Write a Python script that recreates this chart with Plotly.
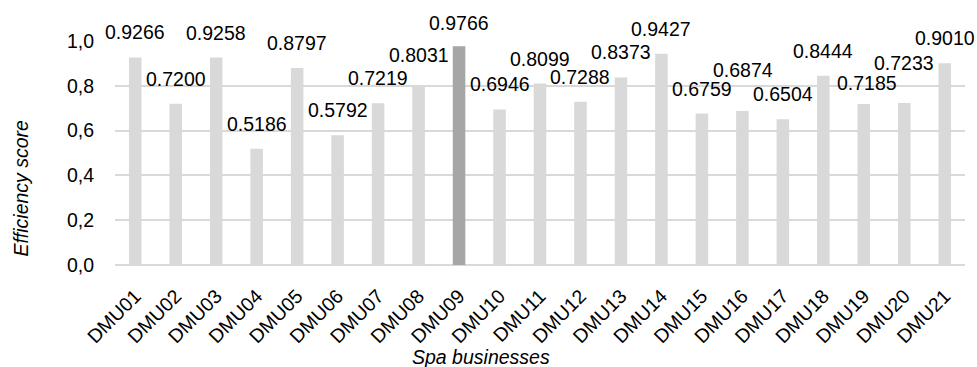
import plotly.graph_objects as go

# Efficiency scores of spa businesses (DEA results)
dmus = [f"DMU{i:02d}" for i in range(1, 22)]
scores = [0.9266, 0.7200, 0.9258, 0.5186, 0.8797, 0.5792, 0.7219, 0.8031,
          0.9766, 0.6946, 0.8099, 0.7288, 0.8373, 0.9427, 0.6759, 0.6874,
          0.6504, 0.8444, 0.7185, 0.7233, 0.9010]
best_dmu = "DMU09"
y_ticks = [0.0, 0.2, 0.4, 0.6, 0.8, 1.0]
y_tick_labels = ["0,0", "0,2", "0,4", "0,6", "0,8", "1,0"]

FONT = "Liberation Sans, Arial, sans-serif"
FS = 19.5
LIGHT = "#d9d9d9"
DARK = "#a6a6a6"

colors = [DARK if d == best_dmu else LIGHT for d in dmus]

fig = go.Figure(go.Bar(
    x=dmus, y=scores, marker=dict(color=colors, line=dict(width=0)),
    hoverinfo="x+y", cliponaxis=False,
))

# value labels above each bar; a few nudged to avoid overlapping neighbours
nudge = {"DMU08": (0, 5), "DMU09": (0, -2), "DMU16": (1, 16),
         "DMU19": (3, -4), "DMU20": (0, 15)}
annotations = []
for d, v in zip(dmus, scores):
    dx, dy = nudge.get(d, (0, 0))
    annotations.append(dict(
        x=d, y=v, xref="x", yref="y", text=f"{v:.4f}", showarrow=False,
        xanchor="center", yanchor="middle", xshift=dx, yshift=25 + dy,
        font=dict(family=FONT, size=FS, color="#000000"),
    ))

annotations.append(dict(
    text="<i>Efficiency score</i>", xref="paper", yref="paper",
    x=-0.111, y=0.344, showarrow=False, textangle=-90,
    xanchor="center", yanchor="middle",
    font=dict(family=FONT, size=FS, color="#000000"),
))
annotations.append(dict(
    text="<i>Spa businesses</i>", xref="paper", yref="paper",
    x=0.4306, y=-0.41, showarrow=False,
    xanchor="center", yanchor="middle",
    font=dict(family=FONT, size=FS, color="#000000"),
))

fig.update_layout(
    width=977, height=367,
    margin=dict(l=115, r=12, t=41, b=102, pad=0),
    paper_bgcolor="white", plot_bgcolor="white",
    bargap=0.69, showlegend=False,
    font=dict(family=FONT, size=FS, color="#000000"),
    annotations=annotations,
    xaxis=dict(
        type="category", range=[-0.5, len(dmus) - 0.5], automargin=False,
        tickangle=-45, showgrid=False, showline=False,
        ticks="", zeroline=False, ticklabelstandoff=15,
        tickfont=dict(family=FONT, size=FS, color="#000000"),
    ),
    yaxis=dict(
        range=[0, 1.0], automargin=False,
        tickvals=y_ticks, ticktext=y_tick_labels,
        showgrid=True, gridcolor=LIGHT, gridwidth=1.5,
        zeroline=True, zerolinecolor=LIGHT, zerolinewidth=1.5,
        showline=False, ticks="", ticklabelstandoff=20,
        tickfont=dict(family=FONT, size=FS, color="#000000"),
    ),
)

fig.write_html("out.html")
